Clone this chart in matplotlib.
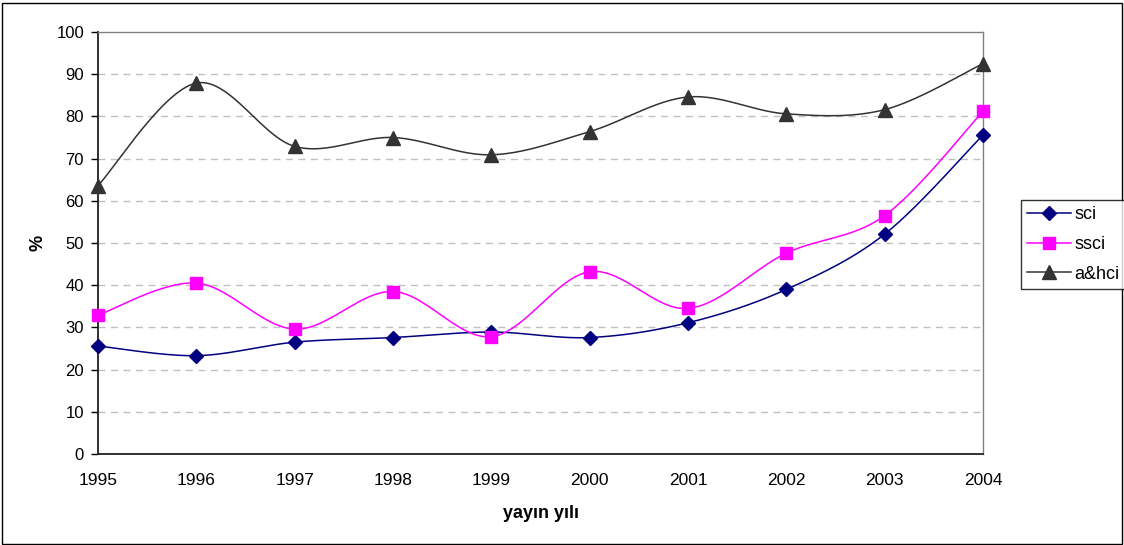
import numpy as np
import matplotlib
matplotlib.use("Agg")
import matplotlib.pyplot as plt
from matplotlib.patches import Rectangle

plt.rcParams['font.family'] = ['Liberation Sans', 'DejaVu Sans']

years = [1995, 1996, 1997, 1998, 1999, 2000, 2001, 2002, 2003, 2004]
sci = [25.6, 23.3, 26.5, 27.6, 28.9, 27.6, 31.1, 39.0, 52.1, 75.6]
ssci = [32.9, 40.5, 29.6, 38.5, 27.8, 43.2, 34.5, 47.6, 56.5, 81.2]
ahci = [63.6, 87.9, 72.9, 75.0, 70.9, 76.4, 84.6, 80.6, 81.6, 92.5]
series_names = ['sci', 'ssci', 'a&hci']
y_ticks = [0, 10, 20, 30, 40, 50, 60, 70, 80, 90, 100]


def smooth(xs, ys, n=30):
    xs = np.asarray(xs, float)
    ys = np.asarray(ys, float)
    px = np.concatenate([[xs[0]], xs, [xs[-1]]])
    py = np.concatenate([[ys[0]], ys, [ys[-1]]])
    outx, outy = [], []
    t = np.linspace(0, 1, n)
    for i in range(1, len(px) - 2):
        p0 = np.array([px[i], py[i]])
        p3 = np.array([px[i + 1], py[i + 1]])
        c1 = p0 + (p3 - np.array([px[i - 1], py[i - 1]])) / 6.0
        c2 = p3 - (np.array([px[i + 2], py[i + 2]]) - p0) / 6.0
        b = ((1 - t) ** 3)[:, None] * p0 + (3 * (1 - t) ** 2 * t)[:, None] * c1 \
            + (3 * (1 - t) * t ** 2)[:, None] * c2 + (t ** 3)[:, None] * p3
        outx.extend(b[:, 0])
        outy.extend(b[:, 1])
    return np.array(outx), np.array(outy)


W, H = 1124, 545
fig = plt.figure(figsize=(W / 100, H / 100), dpi=100)
fig.patch.set_facecolor('white')
fig.add_artist(Rectangle((2 / W, 1 / H), (W - 4) / W, (H - 4) / H,
                         transform=fig.transFigure, fill=False,
                         edgecolor='black', linewidth=1.0))

L, R, T, B = 98, 983, 32, 454
ax = fig.add_axes([L / W, 1 - B / H, (R - L) / W, (B - T) / H])

for yv in y_ticks[1:-1]:
    ax.axhline(yv, color='#c0c0c0', linewidth=1.0, linestyle=(0, (5, 4)), zorder=0)

styles = [
    (sci, '#000080', 'D', 7.5),
    (ssci, '#ff00ff', 's', 8.5),
    (ahci, '#333333', '^', 9.5),
]
handles = []
for (vals, col, mk, ms), name in zip(styles, series_names):
    sx, sy = smooth(years, vals)
    ax.plot(sx, sy, color=col, linewidth=1.1, zorder=2, clip_on=False)
    ax.plot(years, vals, linestyle='none', marker=mk, markersize=ms,
            color=col, markeredgecolor=col, zorder=3, clip_on=False)
    h, = ax.plot([], [], color=col, linewidth=1.1, marker=mk, markersize=ms,
                 markeredgecolor=col)
    handles.append(h)

ax.set_xlim(years[0], years[-1])
ax.set_ylim(0, 100)
ax.set_yticks(y_ticks)
ax.set_xticks(years)
ax.tick_params(axis='y', direction='out', length=5, width=1, labelsize=12,
               pad=5, color='black')
ax.tick_params(axis='x', length=0, labelsize=12.5, pad=14)

for s in ['left', 'bottom']:
    ax.spines[s].set_color('#202020')
    ax.spines[s].set_linewidth(1.3)
for s in ['top', 'right']:
    ax.spines[s].set_color('#808080')
    ax.spines[s].set_linewidth(1.0)

fig.text(541 / W, 1 - 514 / H, 'yayın yılı', ha='center', va='center',
         fontsize=13, fontweight='bold')
fig.text(38 / W, 1 - 243 / H, '%', ha='center', va='center',
         fontsize=13, fontweight='bold', rotation=90)

leg = fig.legend(handles, series_names, loc='upper left',
                 bbox_to_anchor=(1021 / W, 1 - 200 / H),
                 frameon=True, fancybox=False, fontsize=13,
                 handlelength=2.4, handletextpad=0.2, borderpad=0.35,
                 labelspacing=0.7, borderaxespad=0)
leg.get_frame().set_edgecolor('black')
leg.get_frame().set_linewidth(1.0)

fig.savefig('out.png', dpi=100)
